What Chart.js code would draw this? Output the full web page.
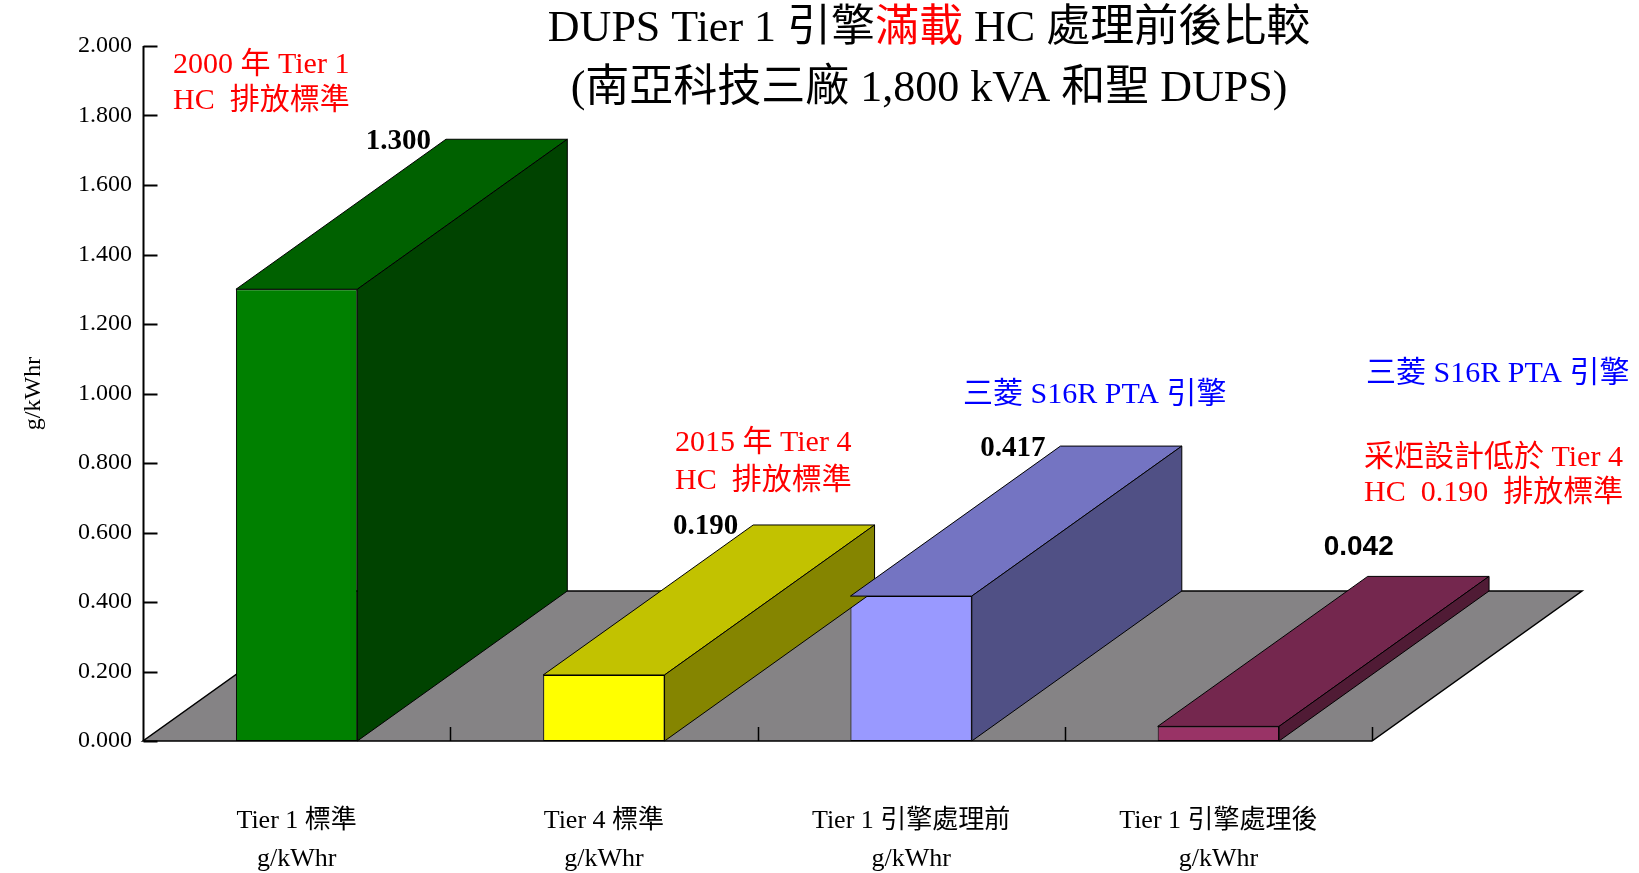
<!DOCTYPE html>
<html lang="zh-Hant">
<head>
    <meta charset="UTF-8">
    <title>DUPS Tier 1 引擎滿載 HC 處理前後比較</title>
    <script src="https://cdn.jsdelivr.net/npm/chart.js"></script>
    <style>
        html, body { margin: 0; padding: 0; background: #fff; }
        #wrap { width: 1639px; height: 873px; }
    </style>
</head>
<body>
    <div id="wrap"><canvas id="chart" width="1639" height="873"></canvas></div>

    <script>
        // 資料
        const categories = [
            ['Tier 1 標準', 'g/kWhr'],
            ['Tier 4 標準', 'g/kWhr'],
            ['Tier 1 引擎處理前', 'g/kWhr'],
            ['Tier 1 引擎處理後', 'g/kWhr']
        ];
        const hcValues = [1.300, 0.190, 0.417, 0.042];
        const valueLabels = ['1.300', '0.190', '0.417', '0.042'];
        const frontColors = ['#008000', '#ffff00', '#9999ff', '#993366'];

        const titleLine1 = [['DUPS Tier 1 引擎', '#000'], ['滿載', '#ff0000'], [' HC 處理前後比較', '#000']];
        const titleLine2 = '(南亞科技三廠 1,800 kVA 和聖 DUPS)';

        const serif = '"Liberation Serif", "Noto Sans CJK TC", serif';
        const DX = 210, DY = 150; // 立體深度

        // 顏色加深
        function shade(hex, f) {
            const n = parseInt(hex.slice(1), 16);
            const r = Math.round(((n >> 16) & 255) * f);
            const g = Math.round(((n >> 8) & 255) * f);
            const b = Math.round((n & 255) * f);
            return `rgb(${r},${g},${b})`;
        }

        function poly(ctx, pts, fill) {
            ctx.beginPath();
            ctx.moveTo(pts[0][0], pts[0][1]);
            for (let i = 1; i < pts.length; i++) ctx.lineTo(pts[i][0], pts[i][1]);
            ctx.closePath();
            ctx.fillStyle = fill;
            ctx.fill();
            ctx.stroke();
        }

        const bar3d = {
            id: 'bar3d',
            beforeDatasetsDraw(chart) {
                const { ctx, chartArea: a, scales: { y } } = chart;
                const y0 = y.getPixelForValue(0);
                ctx.save();
                ctx.strokeStyle = '#000';
                ctx.lineWidth = 1.5;
                // 底板
                poly(ctx, [[a.left, y0], [a.right, y0], [a.right + DX, y0 - DY], [a.left + DX, y0 - DY]], '#858385');
                // 分類刻度
                const w = (a.right - a.left) / categories.length;
                ctx.beginPath();
                for (let i = 1; i <= categories.length; i++) {
                    const px = Math.round(a.left + w * i) + 0.5;
                    ctx.moveTo(px, y0);
                    ctx.lineTo(px, y0 - 14);
                }
                ctx.stroke();
                ctx.restore();
            },
            afterDatasetsDraw(chart) {
                const { ctx, scales: { y } } = chart;
                const meta = chart.getDatasetMeta(0);
                ctx.save();
                ctx.strokeStyle = '#000';
                ctx.lineWidth = 1;
                meta.data.forEach((el, i) => {
                    const l = el.x - el.width / 2, r = el.x + el.width / 2;
                    const t = el.y, b = el.base;
                    poly(ctx, [[l, t], [r, t], [r + DX, t - DY], [l + DX, t - DY]], shade(frontColors[i], 0.76));
                    poly(ctx, [[r, t], [r, b], [r + DX, b - DY], [r + DX, t - DY]], shade(frontColors[i], 0.52));
                });
                // 數值標籤
                ctx.fillStyle = '#000';
                ctx.textBaseline = 'middle';
                meta.data.forEach((el, i) => {
                    const cx = el.x - el.width / 2 + DX, cy = el.y - DY;
                    if (i === 3) {
                        ctx.font = 'bold 28px "Liberation Sans", sans-serif';
                        ctx.textAlign = 'center';
                        ctx.fillText(valueLabels[i], cx - 9, cy - 29);
                    } else {
                        ctx.font = 'bold 29px "Liberation Serif", serif';
                        ctx.textAlign = 'right';
                        ctx.fillText(valueLabels[i], cx - 15, cy + 2);
                    }
                });
                // Y 軸線與刻度
                const a = chart.chartArea;
                const ax = Math.round(a.left) + 0.5;
                ctx.beginPath();
                ctx.moveTo(ax, y.getPixelForValue(2));
                ctx.lineTo(ax, y.getPixelForValue(0));
                y.ticks.forEach(tk => {
                    const py = Math.round(y.getPixelForValue(tk.value)) + 0.5;
                    ctx.moveTo(ax, py);
                    ctx.lineTo(ax + 14, py);
                });
                ctx.lineWidth = 2;
                ctx.stroke();
                ctx.restore();
            },
            afterDraw(chart) {
                const { ctx } = chart;
                ctx.save();
                ctx.textBaseline = 'middle';
                // 標題
                ctx.font = '44px ' + serif;
                const total = titleLine1.reduce((s, p) => s + ctx.measureText(p[0]).width, 0);
                let x = 929 - total / 2;
                ctx.textAlign = 'left';
                titleLine1.forEach(p => {
                    ctx.fillStyle = p[1];
                    ctx.fillText(p[0], x, 29);
                    x += ctx.measureText(p[0]).width;
                });
                ctx.textAlign = 'center';
                ctx.fillStyle = '#000';
                ctx.fillText(titleLine2, 929, 89);
                // 註解文字
                const notes = [
                    ['2000 年 Tier 1', '#ff0000', 173, 65],
                    ['HC  排放標準', '#ff0000', 173, 101],
                    ['2015 年 Tier 4', '#ff0000', 675, 443],
                    ['HC  排放標準', '#ff0000', 675, 481],
                    ['三菱 S16R PTA 引擎', '#0000ff', 963, 395],
                    ['三菱 S16R PTA 引擎', '#0000ff', 1366, 374],
                    ['采炬設計低於 Tier 4', '#ff0000', 1364, 458],
                    ['HC  0.190  排放標準', '#ff0000', 1364, 493]
                ];
                ctx.textAlign = 'left';
                ctx.font = '30px ' + serif;
                notes.forEach(n => {
                    ctx.fillStyle = n[1];
                    ctx.fillText(n[0], n[2], n[3]);
                });
                ctx.restore();
            }
        };

        new Chart(document.getElementById('chart'), {
            type: 'bar',
            data: {
                labels: categories,
                datasets: [{
                    data: hcValues,
                    backgroundColor: frontColors,
                    borderColor: '#000',
                    borderWidth: 1,
                    borderSkipped: false,
                    categoryPercentage: 1,
                    barPercentage: 0.395
                }]
            },
            options: {
                responsive: false,
                animation: false,
                layout: { padding: { top: 46, right: 267, left: 0, bottom: 0 } },
                plugins: {
                    legend: { display: false },
                    tooltip: { enabled: false },
                    title: { display: false }
                },
                scales: {
                    x: {
                        grid: { display: false, drawTicks: false },
                        border: { display: false },
                        ticks: {
                            color: '#000',
                            padding: 61,
                            maxRotation: 0,
                            autoSkip: false,
                            font: { family: serif, size: 26, lineHeight: 38 / 26 }
                        },
                        afterFit(s) { s.height = 132; }
                    },
                    y: {
                        min: 0,
                        max: 2,
                        grid: { display: false, drawTicks: false },
                        border: { display: false },
                        ticks: {
                            stepSize: 0.2,
                            padding: 11,
                            color: '#000',
                            font: { family: serif, size: 24 },
                            callback: v => v.toFixed(3)
                        },
                        title: {
                            display: true,
                            text: 'g/kWhr',
                            color: '#000',
                            font: { family: serif, size: 24 },
                            padding: { top: 19, bottom: 0 }
                        },
                        afterFit(s) { s.width = 143; }
                    }
                }
            },
            plugins: [bar3d]
        });
    </script>
</body>
</html>
